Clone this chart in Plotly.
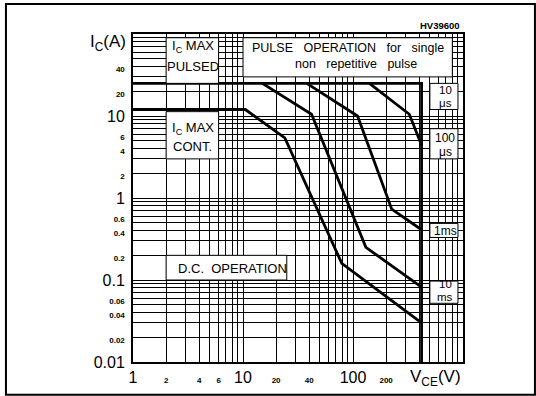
import numpy as np
import plotly.graph_objects as go

# ---------------- data ----------------
# Safe operating area curves (V_CE in volts, I_C in amps)
dc_v = [1, 10.5, 24, 79, 420]
dc_i = [12, 12, 5.4, 0.16, 0.03]

ms10_v = [15, 42, 131, 420]
ms10_i = [25, 10.5, 0.25, 0.082]

ms1_v = [38, 110, 225, 420]
ms1_i = [25, 10, 0.73, 0.41]

us100_v = [141, 325, 420]
us100_i = [25, 10.5, 4.4]

# I_C max pulsed line (10 us) and V_CE max limit
us10_v = [1, 420, 420]
us10_i = [25, 25, 0.01]

# tick labels
x_label_vals = [1, 2, 4, 6, 10, 20, 40, 100, 200]
x_big = [1, 10, 100]
y_label_vals = [0.01, 0.02, 0.04, 0.06, 0.1, 0.2, 0.4, 0.6, 1, 2, 4, 6, 10, 20, 40]
y_big = [0.01, 0.1, 1, 10]

FONT = "Liberation Sans, Arial, Helvetica, sans-serif"

grid_x = [round(m * 10 ** k, 6) for k in range(0, 3) for m in range(1, 10)] + [1000]
grid_y = [round(m * 10 ** k, 6) for k in range(-2, 2) for m in range(1, 10)] + [100]


def fmt(v):
    return "%g" % v


def ticktexts(grid, labeled, big):
    out = []
    for g in grid:
        if any(abs(g - l) < 1e-9 for l in labeled):
            if any(abs(g - b) < 1e-9 for b in big):
                out.append(fmt(g))
            else:
                out.append("<b><span style='font-size:8px'>%s</span></b>" % fmt(g))
        else:
            out.append("")
    return out


fig = go.Figure()

line_style = dict(color="black", width=2.8)
for xs, ys in [(us10_v, us10_i), (dc_v, dc_i), (ms10_v, ms10_i),
               (ms1_v, ms1_i), (us100_v, us100_i)]:
    fig.add_trace(go.Scatter(x=xs, y=ys, mode="lines", line=line_style,
                             hoverinfo="skip", showlegend=False))

# ---------------- label boxes (data coords) ----------------
boxes = [
    (2, 6, 25, 90),        # Ic max pulsed
    (10, 800, 30, 90),     # pulse operation
    (500, 900, 12, 25),    # 10 us
    (500, 900, 3, 7),      # 100 us
    (500, 900, 0.33, 0.49),  # 1 ms
    (500, 900, 0.052, 0.097),  # 10 ms
    (2, 6, 3, 11.3),       # Ic max cont
    (2, 25, 0.1, 0.2),     # D.C. operation
]
for x0, x1, y0, y1 in boxes:
    fig.add_shape(type="rect", xref="x", yref="y", x0=x0, x1=x1, y0=y0, y1=y1,
                  fillcolor="white", line=dict(color="black", width=1), layer="above")

texts = [
    ("I<sub>C</sub> MAX", 3.5, 71.4, 13),
    ("PULSED", 3.5, 40.7, 13),
    ("PULSE\u00a0\u00a0 OPERATION\u00a0\u00a0 for\u00a0\u00a0 single", 89.5, 67.4, 12.5),
    ("non\u00a0\u00a0 repetitive\u00a0\u00a0 pulse", 106, 43, 12.5),
    ("10", 686, 20.8, 11.5),
    ("\u03bcs", 686, 14.5, 11.5),
    ("100", 686, 5.4, 12),
    ("\u03bcs", 686, 3.65, 12),
    ("1ms", 686, 0.40, 12),
    ("10", 686, 0.089, 11.5),
    ("ms", 686, 0.062, 11.5),
    ("I<sub>C</sub> MAX", 3.5, 7.14, 13),
    ("CONT.", 3.5, 4.19, 13),
    ("D.C.\u00a0 OPERATION", 8.0, 0.137, 13),
]
for t, xv, yv, sz in texts:
    fig.add_annotation(text=t, x=np.log10(xv), y=np.log10(yv), xref="x", yref="y",
                       showarrow=False, font=dict(family=FONT, size=sz, color="black"),
                       xanchor="center", yanchor="middle")

# outside texts
fig.add_annotation(text="<b>HV39600</b>", xref="paper", yref="paper", x=0.997, y=1.0274,
                   xanchor="right", yanchor="middle", showarrow=False,
                   font=dict(family=FONT, size=9.5, color="black"))
fig.add_annotation(text="I<sub>C</sub>(A)", xref="paper", yref="paper", x=-0.015, y=0.9726,
                   xanchor="right", yanchor="middle", showarrow=False,
                   font=dict(family=FONT, size=17, color="black"))
fig.add_annotation(text="V<sub>CE</sub>(V)", xref="paper", yref="paper", x=0.918, y=-0.049,
                   xanchor="center", yanchor="middle", showarrow=False,
                   font=dict(family=FONT, size=17, color="black"))

# outer frame
fig.add_shape(type="rect", xref="paper", yref="paper",
              x0=-0.385, x1=1.218, y0=-0.1, y1=1.0915,
              line=dict(color="black", width=2), fillcolor="rgba(0,0,0,0)", layer="above")

axis_common = dict(type="log", showgrid=True, gridcolor="black", gridwidth=1,
                   showline=True, linecolor="black", linewidth=2, mirror=True,
                   ticks="", zeroline=False, automargin=False, tickangle=0,
                   tickfont=dict(family=FONT, size=16, color="black"))

fig.update_xaxes(range=[0, 3], tickmode="array", tickvals=grid_x,
                 ticktext=ticktexts(grid_x, x_label_vals, x_big), **axis_common)
fig.update_yaxes(range=[-2, 2], tickmode="array", tickvals=grid_y,
                 ticktext=ticktexts(grid_y, y_label_vals, y_big),
                 ticklabelstandoff=3, **axis_common)

fig.update_layout(width=536, height=396, margin=dict(l=133, r=73, t=34, b=34),
                  plot_bgcolor="white", paper_bgcolor="white", showlegend=False)

fig.write_html("out.html", config={"displayModeBar": False},
               post_script="document.body.style.margin='0';document.body.style.overflow='hidden';")
